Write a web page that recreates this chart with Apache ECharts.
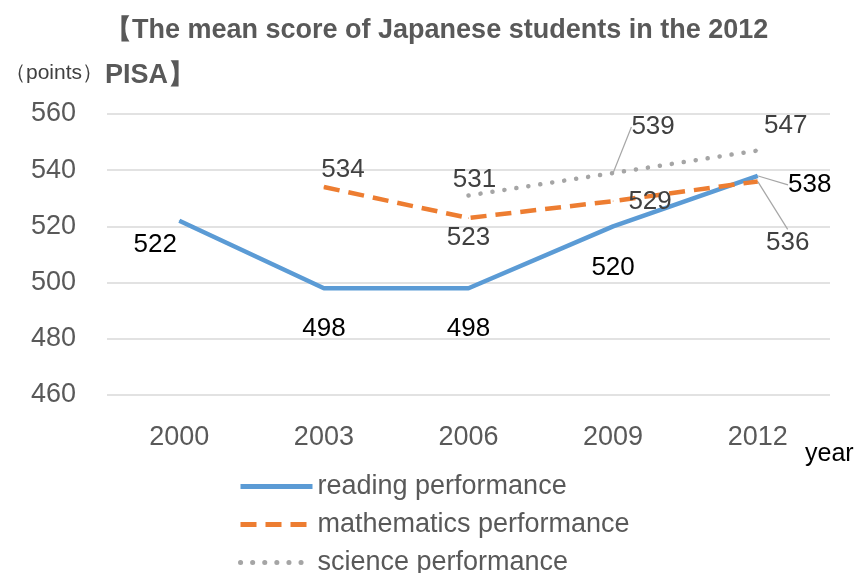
<!DOCTYPE html>
<html>
<head>
<meta charset="utf-8">
<script src="https://cdn.jsdelivr.net/npm/echarts@6/dist/echarts.min.js"></script>
<style>
html, body { margin: 0; padding: 0; background: #fff; }
#main { width: 865px; height: 573px; }
</style>
</head>
<body>
<div id="main"></div>
<script>
// data
var years = ['2000', '2003', '2006', '2009', '2012'];
var reading = [522, 498, 498, 520, 538];
var maths = [null, 534, 523, 529, 536];
var science = [null, null, 531, 539, 547];
var seriesNames = ['reading performance', 'mathematics performance', 'science performance'];

// where each value label sits relative to its point (px)
var labelOffsets = [
    [[-24, 24], [0, 41], [0, 41], [0, 41], [52, 9]],
    [null, [19, -17], [0, 20], [37, 1], [30, 61]],
    [null, null, [6, -16], [40, -46], [28, -25]]
];
// which labels get a leader line back to their point
var leaders = [
    [false, false, false, false, true],
    [false, false, false, false, true],
    [false, false, false, true, false]
];

var font = 'Liberation Sans';
var labelColors = ['#000000', '#404040', '#404040'];

function buildData(values, s) {
    return values.map(function (v, i) {
        if (v == null) return null;
        return { value: v, labelLine: { show: leaders[s][i] } };
    });
}

function makeSeries(values, s, color, lineStyle) {
    return {
        name: seriesNames[s],
        type: 'line',
        data: buildData(values, s),
        symbol: 'circle',
        symbolSize: 1,
        itemStyle: { color: color },
        lineStyle: lineStyle,
        label: {
            show: true,
            position: 'inside',
            color: labelColors[s],
            fontFamily: font,
            fontSize: 26
        },
        labelLine: {
            show: false,
            lineStyle: { color: '#A6A6A6', width: 1.2 }
        },
        labelLayout: function (p) {
            var o = labelOffsets[s][p.dataIndex];
            return o ? { dx: o[0], dy: o[1] } : {};
        },
        animation: false
    };
}

var chart = echarts.init(document.getElementById('main'));
chart.setOption({
    backgroundColor: '#ffffff',
    title: {
        text: '【The mean score of Japanese students in the 2012\nPISA】',
        left: 100,
        top: 3,
        textStyle: {
            color: '#595959',
            fontFamily: font,
            fontWeight: 'bold',
            fontSize: 27,
            lineHeight: 45
        }
    },
    legend: {
        orient: 'vertical',
        left: 238,
        top: 473,
        height: 160,
        padding: 0,
        itemWidth: 72,
        itemHeight: 14,
        itemGap: 11,
        itemStyle: { opacity: 0 },
        lineStyle: { width: 5 },
        textStyle: { color: '#595959', fontFamily: font, fontSize: 27 },
        data: seriesNames
    },
    grid: { left: 107, right: 35, top: 114, bottom: 178 },
    xAxis: {
        type: 'category',
        data: years,
        name: 'year',
        nameLocation: 'end',
        nameGap: -25,
        nameTextStyle: {
            color: '#000000',
            fontFamily: font,
            fontSize: 25,
            align: 'left',
            verticalAlign: 'top',
            padding: [47, 0, 0, 0]
        },
        axisLine: { show: false },
        axisTick: { show: false },
        axisLabel: { color: '#595959', fontFamily: font, fontSize: 27, margin: 29 }
    },
    yAxis: {
        type: 'value',
        min: 460,
        max: 560,
        interval: 20,
        name: '（points）',
        nameGap: 30,
        nameTextStyle: {
            color: '#404040',
            fontFamily: font,
            fontSize: 21,
            align: 'right',
            padding: [0, 4, 0, 0]
        },
        axisLine: { show: false },
        axisTick: { show: false },
        splitLine: { lineStyle: { color: '#D9D9D9', width: 1.5 } },
        axisLabel: { color: '#595959', fontFamily: font, fontSize: 27, margin: 31 }
    },
    series: [
        makeSeries(reading, 0, '#5B9BD5', { color: '#5B9BD5', width: 4.5 }),
        makeSeries(maths, 1, '#ED7D31', { color: '#ED7D31', width: 4.5, type: [16, 9] }),
        makeSeries(science, 2, '#A5A5A5', { color: '#A5A5A5', width: 4.5, type: [0.1, 12], cap: 'round' })
    ]
});
</script>
</body>
</html>
